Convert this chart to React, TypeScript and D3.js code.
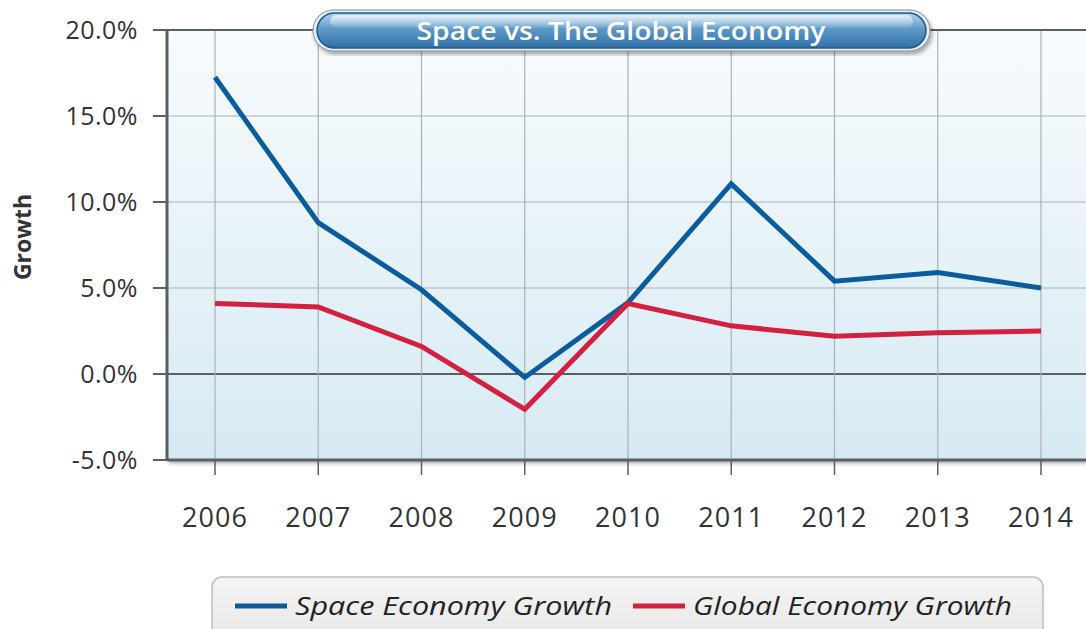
import React from "react";
import * as d3 from "d3";

const years = ["2006", "2007", "2008", "2009", "2010", "2011", "2012", "2013", "2014"];
const spaceGrowth = [17.25, 8.8, 4.9, -0.2, 4.15, 11.05, 5.4, 5.9, 5.0];
const globalGrowth = [4.1, 3.9, 1.6, -2.05, 4.1, 2.8, 2.2, 2.4, 2.5];
const yTicks = [-5, 0, 5, 10, 15, 20];
const seriesNames = ["Space Economy Growth", "Global Economy Growth"];
const seriesColors = ["#0b5c9e", "#d3203f"];
const title = "Space vs. The Global Economy";
const yLabel = "Growth";

const W = 1086, H = 629;
const plotL = 167, plotR = 1095, plotT = 30, plotB = 460;
const FONT = "'Open Sans', Lato, sans-serif";

const fmt = (t: number) => t.toFixed(1) + "%";

export default function App() {
  const x = d3.scalePoint<string>().domain(years).range([215, 1041]);
  const y = d3.scaleLinear().domain([-5, 20]).range([plotB, plotT]);
  const line = d3.line<number>().x((_, i) => x(years[i])!).y((d) => y(d));
  const series = [spaceGrowth, globalGrowth];

  return (
    <svg width={W} height={H} style={{ position: "absolute", left: 0, top: 0, display: "block" }}>
      <defs>
        <linearGradient id="bg" x1="0" y1="0" x2="0" y2="1">
          <stop offset="0" stopColor="#f8fbfd" />
          <stop offset="1" stopColor="#d6eaf3" />
        </linearGradient>
        <linearGradient id="pill" x1="0" y1="0" x2="0" y2="1">
          <stop offset="0" stopColor="#b3d5ea" />
          <stop offset="0.45" stopColor="#5d9ac8" />
          <stop offset="1" stopColor="#2f6fa8" />
        </linearGradient>
        <linearGradient id="gloss" x1="0" y1="0" x2="0" y2="1">
          <stop offset="0" stopColor="#ffffff" stopOpacity="0.7" />
          <stop offset="1" stopColor="#ffffff" stopOpacity="0.05" />
        </linearGradient>
        <linearGradient id="leg" x1="0" y1="0" x2="0" y2="1">
          <stop offset="0" stopColor="#f4f4f4" />
          <stop offset="1" stopColor="#e6e6e6" />
        </linearGradient>
        <filter id="shadow" x="-5%" y="-5%" width="110%" height="115%">
          <feDropShadow dx="2" dy="3" stdDeviation="2" floodColor="#000" floodOpacity="0.35" />
        </filter>
      </defs>
      <rect width={W} height={H} fill="#ffffff" />

      {/* plot background */}
      <rect x={plotL} y={plotT} width={plotR - plotL} height={plotB - plotT} fill="url(#bg)" filter="url(#shadow)" />

      {/* grid */}
      {yTicks.map((t) => (
        <line key={"gy" + t} x1={plotL} x2={plotR} y1={y(t)} y2={y(t)} stroke={t === 0 ? "#5a5f63" : "#a9b2b8"} strokeWidth={t === 0 ? 2 : 1.2} />
      ))}
      {years.map((yr) => (
        <line key={"gx" + yr} x1={x(yr)} x2={x(yr)} y1={plotT} y2={plotB} stroke="#a9b2b8" strokeWidth={1.2} />
      ))}

      {/* axes border */}
      <line x1={plotL} x2={plotL} y1={plotT} y2={plotB} stroke="#5a5f63" strokeWidth={3} />
      <line x1={plotL} x2={plotR} y1={plotB} y2={plotB} stroke="#5a5f63" strokeWidth={3} />
      <line x1={153} x2={plotR} y1={plotT} y2={plotT} stroke="#5a5f63" strokeWidth={2} />

      {/* y ticks */}
      {yTicks.map((t) => (
        <g key={"yt" + t}>
          <line x1={153} x2={plotL} y1={y(t)} y2={y(t)} stroke="#5a5f63" strokeWidth={2} />
          <text x={138} y={y(t) + 9} textAnchor="end" fontFamily={FONT} fontSize={25} letterSpacing={0.5} fill="#333">
            {fmt(t)}
          </text>
        </g>
      ))}
      {/* x ticks */}
      {years.map((yr) => (
        <g key={"xt" + yr}>
          <line x1={x(yr)} x2={x(yr)} y1={plotB} y2={plotB + 15} stroke="#5a5f63" strokeWidth={1.5} />
          <text x={x(yr)} y={527} textAnchor="middle" fontFamily={FONT} fontSize={27} letterSpacing={1} fill="#333">
            {yr}
          </text>
        </g>
      ))}

      {/* y label */}
      <text transform={`translate(31,237) rotate(-90)`} textAnchor="middle" fontFamily={FONT} fontWeight="bold" fontSize={23} fill="#333">
        {yLabel}
      </text>

      {/* lines */}
      {series.map((s, i) => (
        <path key={"s" + i} d={line(s)!} fill="none" stroke={seriesColors[i]} strokeWidth={5} strokeLinejoin="miter" />
      ))}

      {/* title pill */}
      <g filter="url(#shadow)">
        <rect x={313} y={10} width={617} height={41} rx={20.5} fill="#e8eef3" stroke="#7d8d99" strokeWidth={1} />
        <rect x={317} y={13} width={609} height={35} rx={17.5} fill="url(#pill)" stroke="#1e5a8e" strokeWidth={1.5} />
        <rect x={330} y={15} width={583} height={13} rx={6.5} fill="url(#gloss)" />
      </g>
      <text x={621} y={40} textAnchor="middle" fontFamily={FONT} fontSize={25} fontWeight={600} fill="#ffffff"
        textLength={409} lengthAdjust="spacingAndGlyphs">
        {title}
      </text>

      {/* legend */}
      <rect x={212} y={577} width={831} height={70} rx={10} fill="url(#leg)" stroke="#bdbdbd" strokeWidth={1.5} />
      {seriesNames.map((n, i) => {
        const lx = i === 0 ? 235 : 633;
        return (
          <g key={"lg" + i}>
            <line x1={lx} x2={lx + 52} y1={606} y2={606} stroke={seriesColors[i]} strokeWidth={5} />
            <text x={lx + 60} y={615} fontFamily={FONT} fontStyle="italic" fontSize={26} fill="#222"
              textLength={i === 0 ? 317 : 319} lengthAdjust="spacingAndGlyphs">
              {n}
            </text>
          </g>
        );
      })}
    </svg>
  );
}
